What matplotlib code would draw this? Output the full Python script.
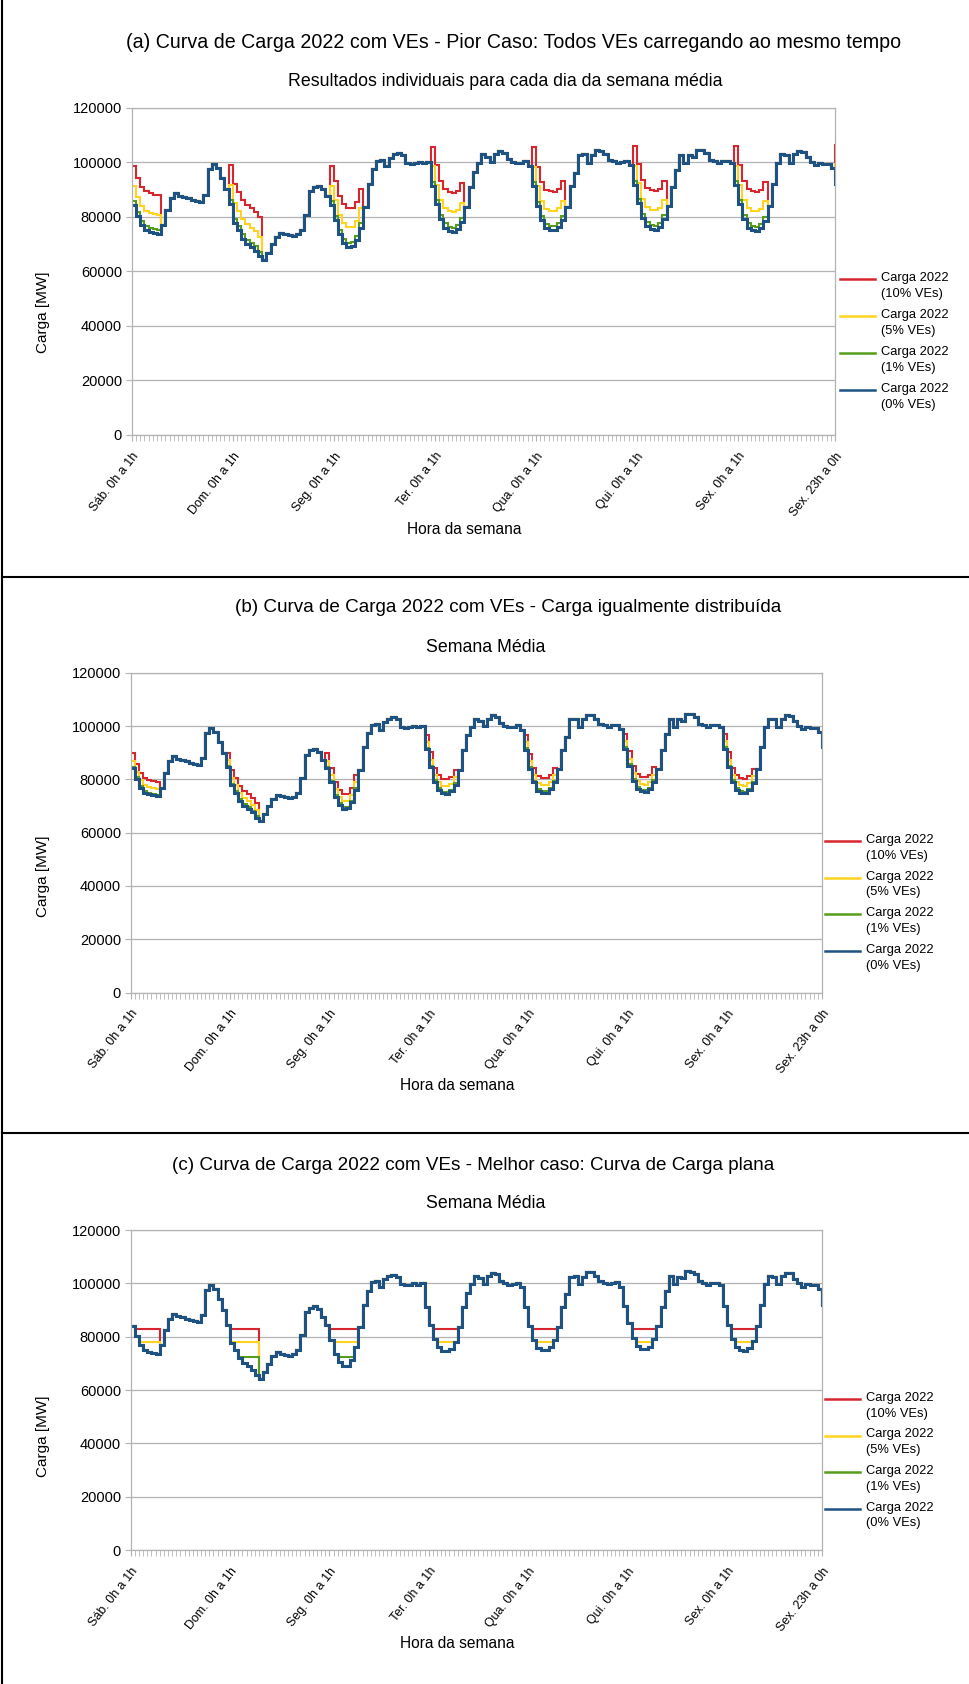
import numpy as np
import matplotlib
matplotlib.use("Agg")
import matplotlib.pyplot as plt
from matplotlib.lines import Line2D

# Average-week load, hourly, Sat 0h .. Fri 23h (MW, 0% EVs)
BASE_LOAD = [
    # Sab
    84100, 80200, 76900, 75000, 74400, 74000, 73600, 76900, 82500, 86800, 88600, 87700,
    87200, 86700, 86200, 85700, 85500, 88000, 97500, 99200, 97800, 94000, 90000, 84500,
    # Dom
    77800, 75000, 72000, 70100, 68900, 67600, 65600, 64200, 66800, 69900, 72600, 74100,
    73600, 73200, 72800, 73500, 75000, 80500, 89300, 90900, 91400, 90300, 87400, 84200,
    # Seg
    78800, 73500, 70400, 69000, 69100, 71300, 76000, 83500, 92000, 97300, 100400, 100700,
    98600, 101600, 102800, 103200, 102500, 99800, 99200, 99500, 100000, 99500, 100000, 91300,
    # Ter
    84500, 79000, 76000, 74800, 74500, 75500, 78000, 83500, 91000, 96500, 99800, 102800,
    102000, 99900, 102800, 104000, 103500, 101000, 100000, 99500, 99700, 100300, 98500, 91100,
    # Qua
    84000, 78800, 75700, 75000, 75000, 76300, 78800, 83700, 91100, 96000, 102500, 102800,
    99800, 102500, 104300, 104200, 102800, 100800, 100300, 99600, 100200, 100500, 98800, 91500,
    # Qui
    85000, 79500, 76500, 75500, 75200, 76200, 79000, 84000, 91000, 97000, 102600, 99800,
    102500, 102000, 104500, 104400, 103500, 100800, 100300, 99500, 100300, 100300, 99500, 91500,
    # Sex
    84500, 79000, 76000, 75000, 74800, 75800, 78500, 84000, 92000, 99800, 102800, 102500,
    99800, 102800, 104000, 103800, 101800, 100000, 98800, 99700, 99300, 99300, 97700, 92000,
]

# extra EV load per hour of day (0h..23h), charging window 23h-6h
WORST_10 = [14300, 14000, 14100, 14300, 14200, 14000, 14200, 0, 0, 0, 0, 0,
            0, 0, 0, 0, 0, 0, 0, 0, 0, 0, 0, 14400]
WORST_5 = [7200, 7000, 7100, 7100, 7100, 7000, 7100, 0, 0, 0, 0, 0,
           0, 0, 0, 0, 0, 0, 0, 0, 0, 0, 0, 7200]
WORST_1 = [1500, 1500, 1500, 1500, 1500, 1500, 1500, 0, 0, 0, 0, 0,
           0, 0, 0, 0, 0, 0, 0, 0, 0, 0, 0, 1500]

SPREAD_10 = [5600, 5400, 5500, 5500, 5500, 5400, 5500, 0, 0, 0, 0, 0,
             0, 0, 0, 0, 0, 0, 0, 0, 0, 0, 0, 5500]
SPREAD_5 = [2800, 2700, 2800, 2800, 2800, 2700, 2800, 0, 0, 0, 0, 0,
            0, 0, 0, 0, 0, 0, 0, 0, 0, 0, 0, 2800]
SPREAD_1 = [600, 600, 600, 600, 600, 600, 600, 0, 0, 0, 0, 0,
            0, 0, 0, 0, 0, 0, 0, 0, 0, 0, 0, 600]

# best case: night valley filled up to a flat level
CHARGE_HOURS = [23, 0, 1, 2, 3, 4, 5, 6]
FLAT_10 = 82900
FLAT_5 = 78100
FLAT_1 = 72500

TICK_POS = [0, 24, 48, 72, 96, 120, 144, 167]
TICK_LABELS = ["Sáb. 0h a 1h", "Dom. 0h a 1h", "Seg. 0h a 1h", "Ter. 0h a 1h",
               "Qua. 0h a 1h", "Qui. 0h a 1h", "Sex. 0h a 1h", "Sex. 23h a 0h"]
SERIES_LABELS = ["Carga 2022\n(10% VEs)", "Carga 2022\n(5% VEs)",
                 "Carga 2022\n(1% VEs)", "Carga 2022\n(0% VEs)"]
COLORS = ["#d7262d", "#ffd320", "#579d1c", "#1d5282"]
WIDTHS = [1.5, 1.5, 1.5, 2.2]

W, H = 969, 1684
GRID = "#b3b3b3"

plt.rcParams["font.family"] = ["Liberation Sans", "DejaVu Sans"]

base = np.array(BASE_LOAD, dtype=float)
hours = np.arange(len(base))
hour_of_day = hours % 24


def weekly(profile):
    return np.array(profile, dtype=float)[hour_of_day]


def flat(level):
    night = np.isin(hour_of_day, CHARGE_HOURS)
    return np.where(night, np.maximum(base, level), base)


panels = [
    {
        "series": [base + weekly(WORST_10), base + weekly(WORST_5), base + weekly(WORST_1), base],
        "title": "(a) Curva de Carga 2022 com VEs - Pior Caso: Todos VEs carregando ao mesmo tempo",
        "title_size": 14.1,
        "subtitle": "Resultados individuais para cada dia da semana média",
        "box": (131.7, 835, 107.5, 435),
        "title_xy": (514, 43), "sub_xy": (505, 82),
        "ylab_xy": (43, 312), "xlab_xy": (464, 529),
        "leg": (840, 875, 881, 279, 37),
    },
    {
        "series": [base + weekly(SPREAD_10), base + weekly(SPREAD_5), base + weekly(SPREAD_1), base],
        "title": "(b) Curva de Carga 2022 com VEs - Carga igualmente distribuída",
        "title_size": 13.6,
        "subtitle": "Semana Média",
        "box": (130.7, 822, 672.7, 992.5),
        "title_xy": (508, 608), "sub_xy": (486, 647),
        "ylab_xy": (43, 876), "xlab_xy": (457, 1086),
        "leg": (825, 860, 866, 841, 36.7),
    },
    {
        "series": [flat(FLAT_10), flat(FLAT_5), flat(FLAT_1), base],
        "title": "(c) Curva de Carga 2022 com VEs - Melhor caso: Curva de Carga plana",
        "title_size": 13.6,
        "subtitle": "Semana Média",
        "box": (130.7, 822, 1230, 1550),
        "title_xy": (473, 1166), "sub_xy": (486, 1204),
        "ylab_xy": (43, 1436), "xlab_xy": (457, 1644),
        "leg": (825, 860, 866, 1399, 36.5),
    },
]

fig = plt.figure(figsize=(W / 100, H / 100), dpi=100)


def fx(x):
    return x / W


def fy(y):
    return 1 - y / H


for p in panels:
    l, r, t, b = p["box"]
    ax = fig.add_axes([fx(l), fy(b), (r - l) / W, (b - t) / H])
    for s, c, lw in zip(p["series"], COLORS, WIDTHS):
        ax.plot(hours, s, drawstyle="steps-post", color=c, lw=lw, solid_joinstyle="miter")

    ax.set_xlim(0, 167)
    ax.set_ylim(0, 120000)
    ax.set_yticks(np.arange(0, 120001, 20000))
    ax.set_yticklabels([str(v) for v in range(0, 120001, 20000)])
    ax.set_xticks(TICK_POS)
    ax.set_xticks(hours, minor=True)
    ax.set_xticklabels(TICK_LABELS, rotation=52, ha="right", va="top",
                       rotation_mode="anchor")
    ax.tick_params(axis="x", which="both", length=4, color=GRID, labelsize=9, pad=7)
    ax.tick_params(axis="y", length=4, color=GRID, labelsize=10.5, pad=3)
    ax.grid(True, axis="y", color=GRID, lw=0.9)
    ax.set_axisbelow(True)
    for sp in ax.spines.values():
        sp.set_color(GRID)
        sp.set_linewidth(0.9)

    fig.text(fx(p["title_xy"][0]), fy(p["title_xy"][1]), p["title"],
             ha="center", va="center", fontsize=p["title_size"])
    fig.text(fx(p["sub_xy"][0]), fy(p["sub_xy"][1]), p["subtitle"],
             ha="center", va="center", fontsize=12.8)
    fig.text(fx(p["ylab_xy"][0]), fy(p["ylab_xy"][1]), "Carga [MW]",
             ha="center", va="center", rotation=90, fontsize=11)
    fig.text(fx(p["xlab_xy"][0]), fy(p["xlab_xy"][1]), "Hora da semana",
             ha="center", va="center", fontsize=11.2)

    x0, x1, xt, y0, dy = p["leg"]
    for i, (lab, c) in enumerate(zip(SERIES_LABELS, COLORS)):
        yy = y0 + i * dy
        fig.add_artist(Line2D([fx(x0), fx(x1)], [fy(yy), fy(yy)], color=c, lw=1.8))
        fig.text(fx(xt), fy(yy - 7), lab, ha="left", va="top", fontsize=9.3,
                 linespacing=1.4)

# panel frame lines
fig.add_artist(Line2D([fx(2), fx(2)], [0, 1], color="black", lw=1.5))
for yy in (577, 1133):
    fig.add_artist(Line2D([fx(2), 1], [fy(yy), fy(yy)], color="black", lw=1.5))

fig.savefig("out.png", dpi=100)
